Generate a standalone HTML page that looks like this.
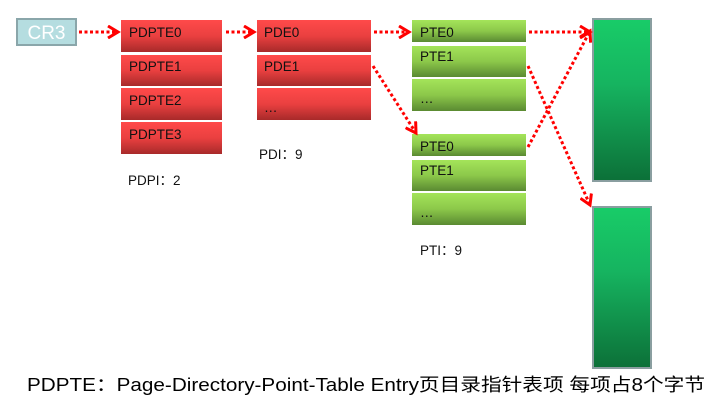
<!DOCTYPE html>
<html><head><meta charset="utf-8"><style>
body{margin:0;background:#fff;}
svg{display:block;}
text{font-family:"Liberation Sans","Noto Sans CJK SC",sans-serif;}
</style></head><body>
<svg width="712" height="402" viewBox="0 0 712 402" xmlns="http://www.w3.org/2000/svg">
<defs>
<linearGradient id="r" x1="0" y1="0" x2="0" y2="1"><stop offset="0" stop-color="#ff4a4a"/><stop offset="0.5" stop-color="#ea4040"/><stop offset="1" stop-color="#a82a2a"/></linearGradient>
<linearGradient id="g" x1="0" y1="0" x2="0" y2="1"><stop offset="0" stop-color="#a4e45a"/><stop offset="0.5" stop-color="#8cc84a"/><stop offset="1" stop-color="#5a8a32"/></linearGradient>
<linearGradient id="p" x1="0" y1="0" x2="0" y2="1"><stop offset="0" stop-color="#18cc68"/><stop offset="0.4" stop-color="#16b460"/><stop offset="1" stop-color="#0c7038"/></linearGradient>
<marker id="a" markerWidth="14" markerHeight="14" refX="11" refY="7" orient="auto" markerUnits="userSpaceOnUse"><path d="M1,1 L11,7 L1,13" fill="none" stroke="#f00" stroke-width="3"/></marker>
</defs>
<rect x="17" y="19" width="59" height="26" fill="#b5dde0" stroke="#8aa6aa" stroke-width="2"/>
<text x="46.5" y="39" font-size="19" fill="#fff" text-anchor="middle">CR3</text>
<g font-size="13.5" fill="#111">
<rect x="121" y="20" width="101" height="32" fill="url(#r)"/><text x="129" y="37">PDPTE0</text>
<rect x="121" y="55" width="101" height="31" fill="url(#r)"/><text x="129" y="71">PDPTE1</text>
<rect x="121" y="88" width="101" height="32" fill="url(#r)"/><text x="129" y="105">PDPTE2</text>
<rect x="121" y="122" width="101" height="32" fill="url(#r)"/><text x="129" y="139">PDPTE3</text>
<rect x="257" y="20" width="114" height="32" fill="url(#r)"/><text x="264" y="37">PDE0</text>
<rect x="257" y="55" width="114" height="31" fill="url(#r)"/><text x="264" y="71">PDE1</text>
<rect x="257" y="88" width="114" height="32" fill="url(#r)"/><text x="264" y="112">…</text>
<rect x="412" y="20" width="114" height="22" fill="url(#g)"/><text x="420" y="37">PTE0</text>
<rect x="412" y="46" width="114" height="31" fill="url(#g)"/><text x="420" y="61">PTE1</text>
<rect x="412" y="79" width="114" height="32" fill="url(#g)"/><text x="420" y="103">…</text>
<rect x="412" y="134" width="114" height="22" fill="url(#g)"/><text x="420" y="151">PTE0</text>
<rect x="412" y="160" width="114" height="31" fill="url(#g)"/><text x="420" y="175">PTE1</text>
<rect x="412" y="193" width="114" height="32" fill="url(#g)"/><text x="420" y="217">…</text>
<text x="128" y="185">PDPI：2</text>
<text x="259" y="159">PDI：9</text>
<text x="420" y="255">PTI：9</text>
</g>
<rect x="593" y="19" width="58" height="162" fill="url(#p)" stroke="#8a9ea0" stroke-width="2"/>
<rect x="593" y="207" width="58" height="161" fill="url(#p)" stroke="#8a9ea0" stroke-width="2"/>
<g stroke="#f00" stroke-width="3" stroke-dasharray="3,2.5" fill="none" marker-end="url(#a)">
<line x1="79" y1="32" x2="118" y2="32"/>
<line x1="226" y1="32" x2="254" y2="32"/>
<line x1="374" y1="32" x2="409" y2="32"/>
<line x1="529" y1="32" x2="590" y2="32"/>
<line x1="373" y1="66" x2="416" y2="133"/>
<line x1="528" y1="147" x2="590" y2="31"/>
<line x1="528" y1="66" x2="590" y2="205"/>
</g>
<text x="27" y="391" font-size="18" fill="#000" textLength="678" lengthAdjust="spacingAndGlyphs">PDPTE：Page-Directory-Point-Table  Entry页目录指针表项 每项占8个字节</text>
</svg>
</body></html>
